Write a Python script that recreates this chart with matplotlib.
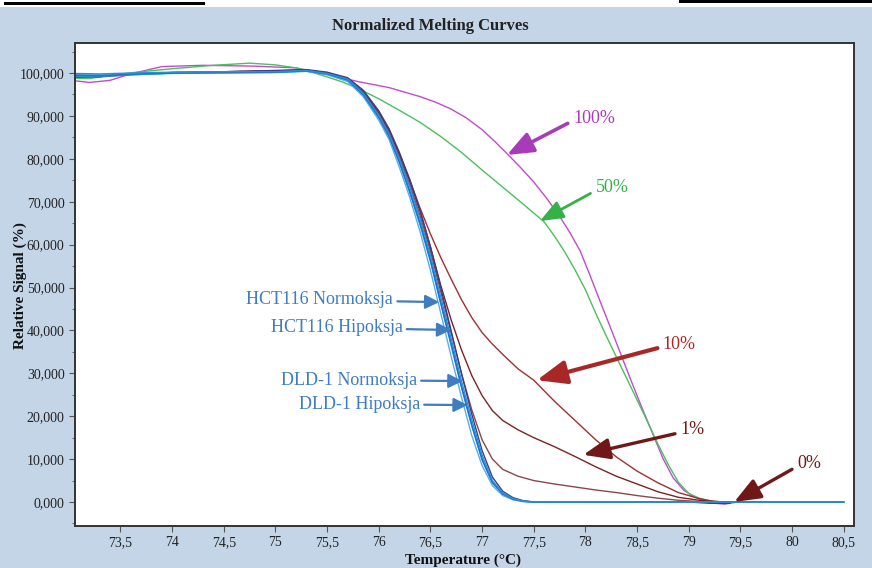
import matplotlib
matplotlib.use('Agg')
import matplotlib.pyplot as plt
from matplotlib.patches import Rectangle
from matplotlib.ticker import FixedLocator, MultipleLocator

# --- dane ---
# grupa niebieska (linie HCT116 / DLD-1)
t_blue = [73.06, 73.3, 73.6, 74.0, 74.5, 75.0, 75.3, 75.5, 75.7, 75.85, 76.0, 76.1, 76.2, 76.3,
          76.4, 76.5, 76.6, 76.7, 76.8, 76.9, 77.0, 77.1, 77.2, 77.3, 77.4, 77.5, 80.5]
hct116_norm = [99.8, 99.6, 99.9, 100.1, 100.2, 100.3, 100.4, 99.6, 98.0, 94.5, 89.0, 84.5, 78.0, 71.0,
               63.0, 54.0, 44.0, 34.0, 24.5, 15.5, 8.5, 3.8, 1.5, 0.5, 0.1, 0.0, 0.0]
hct116_hip = [99.4, 99.3, 99.7, 100.0, 100.1, 100.2, 100.5, 99.8, 98.4, 95.0, 89.8, 85.3, 79.3, 72.5,
              65.0, 56.5, 46.5, 37.0, 27.0, 18.0, 10.0, 4.6, 1.9, 0.7, 0.2, 0.0, 0.0]
dld1_norm = [99.9, 99.8, 100.0, 100.2, 100.3, 100.3, 100.6, 99.9, 98.6, 95.3, 90.2, 85.8, 80.0, 73.5,
             66.0, 57.5, 47.8, 38.2, 28.3, 19.2, 11.0, 5.0, 2.1, 0.8, 0.2, 0.0, 0.0]
dld1_hip = [99.2, 99.2, 99.6, 99.9, 100.0, 100.1, 100.4, 99.7, 98.2, 94.8, 89.4, 85.0, 79.0, 72.0,
            64.5, 56.0, 46.2, 36.5, 26.8, 17.8, 9.8, 4.4, 1.8, 0.6, 0.1, 0.0, 0.0]

t_navy = [73.06, 73.3, 73.6, 74.0, 74.5, 75.0, 75.3, 75.5, 75.7, 75.85, 76.0, 76.1, 76.2, 76.3,
          76.4, 76.5, 76.6, 76.7, 76.8, 76.9, 77.0, 77.1, 77.2, 77.3, 77.4, 77.5, 79.0, 79.2, 79.4]
navy = [99.0, 99.1, 99.6, 100.0, 100.3, 100.6, 100.8, 100.2, 98.9, 96.0, 91.2, 87.0, 81.5, 75.2,
        68.0, 59.5, 50.0, 40.0, 30.0, 20.5, 12.0, 5.8, 2.5, 1.0, 0.3, 0.0, 0.0, -0.3, -0.3]

# standardy 0% / 1% / 10%
t_std = [73.06, 73.3, 73.6, 74.0, 74.5, 75.0, 75.3, 75.5, 75.7, 75.85, 76.0, 76.1, 76.2, 76.3,
         76.4, 76.5, 76.6, 76.7, 76.8, 76.9, 77.0, 77.1, 77.2, 77.35, 77.5, 77.7, 77.9, 78.1,
         78.3, 78.5, 78.7, 78.9, 79.1, 79.25, 79.4]
std_10 = [99.6, 99.5, 99.8, 100.1, 100.3, 100.5, 100.7, 100.0, 98.6, 95.6, 90.8, 86.5, 81.0, 75.0,
          68.5, 62.5, 57.0, 52.0, 47.2, 43.0, 39.5, 36.8, 34.4, 31.0, 28.4, 23.5, 19.0, 14.5,
          10.5, 7.2, 4.5, 2.2, 0.8, 0.1, 0.0]
std_1 = [99.5, 99.4, 99.8, 100.1, 100.3, 100.5, 100.7, 100.0, 98.7, 95.6, 90.8, 86.6, 81.0, 74.8,
         67.8, 59.5, 50.5, 42.5, 35.5, 29.5, 24.8, 21.3, 19.0, 16.8, 15.0, 12.9, 10.6, 8.2,
         6.0, 4.2, 2.4, 1.1, 0.4, 0.1, 0.0]
std_0 = [99.7, 99.5, 99.8, 100.1, 100.2, 100.4, 100.6, 99.9, 98.5, 95.3, 90.3, 86.0, 80.3, 74.0,
         66.8, 58.5, 49.0, 39.5, 30.0, 21.5, 14.5, 10.0, 7.6, 6.0, 5.0, 4.2, 3.5, 2.8,
         2.2, 1.5, 0.9, 0.4, 0.1, 0.0, 0.0]

# standard 100%
t_100 = [73.06, 73.2, 73.4, 73.6, 73.9, 74.3, 74.8, 75.2, 75.5, 75.8, 76.1, 76.4, 76.55, 76.7,
         76.85, 77.0, 77.125, 77.25, 77.375, 77.5, 77.625, 77.75, 77.85, 77.95, 78.05, 78.15,
         78.25, 78.35, 78.45, 78.55, 78.65, 78.75, 78.85, 78.95, 79.05, 79.15, 79.25, 79.35, 79.47]
std_100 = [98.2, 97.8, 98.3, 99.8, 101.5, 101.8, 101.6, 101.2, 99.7, 98.0, 96.6, 94.5, 93.2, 91.6,
           89.5, 86.8, 84.0, 81.0, 77.9, 74.6, 70.8, 66.6, 62.8, 58.5, 52.5, 46.3,
           40.2, 34.0, 27.8, 21.8, 16.0, 10.2, 5.6, 2.8, 1.2, 0.3, -0.3, -0.5, 0.0]

# standard 50%
t_50 = [73.06, 73.2, 73.4, 73.7, 74.0, 74.4, 74.75, 75.0, 75.2, 75.35, 75.5, 75.65, 75.8, 76.0,
        76.2, 76.4, 76.6, 76.8, 77.0, 77.2, 77.4, 77.6, 77.7, 77.8, 77.9, 78.0, 78.1, 78.2,
        78.3, 78.4, 78.5, 78.6, 78.7, 78.8, 78.9, 79.0, 79.1, 79.2, 79.35]
std_50 = [98.8, 98.7, 99.5, 100.3, 101.0, 101.8, 102.3, 101.9, 101.2, 100.2, 99.1, 97.9, 96.4, 94.0,
          91.3, 88.5, 85.2, 81.5, 77.4, 73.4, 69.4, 65.3, 62.0, 58.3, 54.1, 49.5, 44.0, 38.8,
          33.8, 28.8, 23.8, 18.8, 13.6, 8.8, 4.6, 2.0, 0.9, 0.3, 0.0]

x_ticks = [73.5, 74, 74.5, 75, 75.5, 76, 76.5, 77, 77.5, 78, 78.5, 79, 79.5, 80, 80.5]
x_tick_labels = ['73,5', '74', '74,5', '75', '75,5', '76', '76,5', '77', '77,5', '78', '78,5',
                 '79', '79,5', '80', '80,5']
y_ticks = [0, 10, 20, 30, 40, 50, 60, 70, 80, 90, 100]
y_tick_labels = ['%d,000' % v for v in y_ticks]

BG = '#c3d5e6'
SERIF = ['Liberation Serif', 'DejaVu Serif']
plt.rcParams['font.family'] = SERIF

fig = plt.figure(figsize=(8.72, 5.68), dpi=100, facecolor=BG)

# pasek u gory (biale tlo + czarne kreski)
fig.patches.append(Rectangle((0, 1 - 7 / 568), 1, 7 / 568, transform=fig.transFigure,
                             facecolor='white', edgecolor='none', zorder=0))
fig.patches.append(Rectangle((4 / 872, 1 - 5 / 568), 201 / 872, 3 / 568, transform=fig.transFigure,
                             facecolor='black', edgecolor='none', zorder=1))
fig.patches.append(Rectangle((679 / 872, 1 - 3 / 568), 193 / 872, 3 / 568, transform=fig.transFigure,
                             facecolor='black', edgecolor='none', zorder=1))

ax = fig.add_axes([0.086, 0.0739, 0.8934, 0.8504])
ax.set_facecolor('white')

# krzywe standardow
ax.plot(t_100, std_100, color='#c04ccc', lw=1.0)
ax.plot(t_50, std_50, color='#4cbf5e', lw=1.0)
ax.plot(t_std, std_10, color='#a03030', lw=1.0)
ax.plot(t_std, std_1, color='#7a2424', lw=1.0)
ax.plot(t_std, std_0, color='#8a4848', lw=1.0)
ax.plot(t_navy, navy, color='#3a3f8a', lw=1.0)

# krzywe probek
ax.plot(t_blue, dld1_hip, color='#3ab4d4', lw=1.0)
ax.plot(t_blue, hct116_norm, color='#5aaee6', lw=1.0)
ax.plot(t_blue, hct116_hip, color='#1f6fd0', lw=1.2)
ax.plot(t_blue, dld1_norm, color='#2b8fd8', lw=1.0)

ax.set_xlim(73.06, 80.6)
ax.set_ylim(-5.6, 107.0)

ax.xaxis.set_major_locator(FixedLocator(x_ticks))
ax.set_xticklabels(x_tick_labels)
ax.yaxis.set_major_locator(FixedLocator(y_ticks))
ax.set_yticklabels(y_tick_labels)
ax.yaxis.set_minor_locator(MultipleLocator(5))
ax.tick_params(axis='both', which='major', direction='out', length=4, width=0.8,
               colors='#555555', labelcolor='#222222', labelsize=10)
ax.tick_params(axis='y', which='minor', direction='out', length=2, width=0.6, colors='#555555')
for s in ax.spines.values():
    s.set_color('#333333')
    s.set_linewidth(1.4)

fig.text(0.494, 0.955, 'Normalized Melting Curves', ha='center', va='center',
         fontsize=12, fontweight='bold', color='#222222')
fig.text(0.531, 0.014, 'Temperature (°C)', ha='center', va='center',
         fontsize=11, fontweight='bold', color='#111111')
fig.text(0.023, 0.498, 'Relative Signal (%)', ha='center', va='center', rotation=90,
         fontsize=11, fontweight='bold', color='#111111')

# podpisy probek (niebieskie)
blue_txt = '#3f7cc0'
blue_labels = [
    ('HCT116 Normoksja', (76.14, 47.1), (76.585, 46.6)),
    ('HCT116 Hipoksja', (76.23, 40.6), (76.70, 40.1)),
    ('DLD-1 Normoksja', (76.37, 28.4), (76.81, 28.2)),
    ('DLD-1 Hipoksja', (76.40, 22.8), (76.86, 22.6)),
]
for txt, xyt, xy in blue_labels:
    ax.annotate(txt, xy=xy, xytext=xyt, ha='right', va='center', fontsize=13, color=blue_txt,
                arrowprops=dict(arrowstyle='-|>,head_length=0.6,head_width=0.3', color=blue_txt,
                                lw=1.6, mutation_scale=14, shrinkA=1, shrinkB=0))

# podpisy standardow
std_labels = [
    ('100%', (77.88, 89.5), (77.24, 80.9), '#a83cb8', 2.6, 16),
    ('50%', (78.10, 73.2), (77.56, 65.5), '#36b04a', 2.0, 14),
    ('10%', (78.75, 36.8), (77.53, 28.4), '#a82828', 3.0, 18),
    ('1%', (78.92, 16.8), (77.98, 11.0), '#701818', 2.4, 16),
    ('0%', (80.05, 8.9), (79.44, 0.0), '#701818', 2.4, 16),
]
for txt, xyt, xy, col, lw, ms in std_labels:
    ax.annotate(txt, xy=xy, xytext=xyt, ha='left', va='center', fontsize=13, color=col,
                arrowprops=dict(arrowstyle='-|>,head_length=1.0,head_width=0.4', color=col,
                                lw=lw, mutation_scale=ms, shrinkA=2, shrinkB=0,
                                relpos=(0.0, 0.35)))

fig.savefig('out.png', dpi=100, facecolor=BG)
